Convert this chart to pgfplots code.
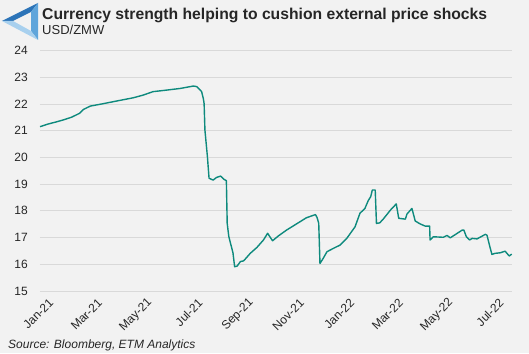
\documentclass[border=0pt]{standalone}
\usepackage{pgfplots}
\pgfplotsset{compat=1.18}
\usetikzlibrary{backgrounds,calc}
\usepackage{fontspec}
\setmainfont{Liberation Sans}
\definecolor{bg}{HTML}{F2F2F2}
\definecolor{gridc}{HTML}{D9D9D9}
\definecolor{linec}{HTML}{0E8A7D}
\definecolor{txt}{HTML}{262626}
\definecolor{logoA}{HTML}{2C74B8}
\definecolor{logoB}{HTML}{5FA5DB}
\definecolor{logoC}{HTML}{A8D0EE}
\begin{document}
\begin{tikzpicture}
\begin{axis}[
  name=ax,
  at={(0,0)}, anchor=south west,
  scale only axis, width=471.7pt, height=240.5pt,
  xmin=0, xmax=572, ymin=15, ymax=24,
  ytick={15,16,...,24},
  xtick={0,59,120,181,243,304,365,424,485,546},
  xticklabels={Jan-21,Mar-21,May-21,Jul-21,Sep-21,Nov-21,Jan-22,Mar-22,May-22,Jul-22},
  axis line style={draw=none},
  major tick length=0pt,
  ymajorgrids,
  grid style={gridc, line width=0.9pt},
  ticklabel style={text=txt, font=\fontsize{12}{14}\selectfont},
  xticklabel style={rotate=45, anchor=east, inner sep=0pt, xshift=1pt, yshift=-15pt},
  yticklabel style={anchor=east, inner sep=0pt, xshift=-12pt},
  /pgf/number format/assume math mode=true,
  clip=false,
]
\addplot[linec, line width=1.4pt, line join=round] coordinates {
(0,21.15) (10,21.25) (20,21.33) (28,21.40) (38,21.50) (48,21.65) (53,21.80) (61,21.92)
(75,22.00) (93,22.11) (113,22.23) (125,22.33) (137,22.46) (154,22.52) (170,22.58) (186,22.67)
(190,22.65) (193,22.56) (196,22.46) (198,22.21) (199,22.02) (200,21.02) (203,20.03) (205,19.22)
(210,19.15) (214,19.25) (219,19.30) (223,19.18) (226,19.13) (227,17.53) (229,17.03) (234,16.43)
(236,15.91) (239,15.93) (243,16.10) (247,16.13) (255,16.41) (263,16.63) (271,16.91) (276,17.16)
(282,16.88) (289,17.06) (299,17.28) (311,17.51) (323,17.74) (334,17.86) (336,17.75) (338,17.53)
(339.5,16.03) (343,16.20) (348,16.47) (356,16.60) (364,16.72) (372,16.97) (382,17.40) (388,17.91)
(394,18.09) (398,18.38) (401,18.53) (403,18.78) (406.5,18.78) (408,17.53) (412,17.55) (417,17.72)
(425,18.03) (432,18.26) (435,17.72) (443,17.69) (445,17.88) (451,18.09) (455,17.62) (461,17.51)
(467,17.43) (472.5,17.43) (473,16.91) (477,17.03) (489,17.01) (493.5,17.08) (497.5,16.99) (506,17.16)
(512,17.28) (514,17.28) (517,17.03) (521,16.91) (524,16.97) (530,16.95) (540,17.12) (542,17.09)
(545,16.72) (548,16.37) (552,16.41) (558,16.43) (564,16.49) (569,16.31) (572,16.38)
};
\end{axis}
\begin{scope}[shift={($(ax.south west)+(-40pt,-62pt)$)}, x=1pt, y=1pt]
\begin{pgfonlayer}{background}
\fill[bg] (0,0) rectangle (529,353);
\end{pgfonlayer}
\fill[logoA] (2,332) -- (38,350) -- (31,341) -- (13,332) -- cycle;
\fill[logoB] (38,350) -- (38,313) -- (31,322) -- (31,341) -- cycle;
\fill[logoC] (38,313) -- (2,332) -- (13,332) -- (31,322) -- cycle;
\node[anchor=base west, inner sep=0pt, text=txt, font=\bfseries\fontsize{15.7}{18}\selectfont] at (42,333) {Currency strength helping to cushion external price shocks};
\node[anchor=base west, inner sep=0pt, text=txt, font=\fontsize{13}{15}\selectfont] at (42,318) {USD/ZMW};
\node[anchor=base west, inner sep=0pt, text=txt, font=\itshape\fontsize{12}{14}\selectfont] at (8,5) {Source: Bloomberg, ETM Analytics};
\end{scope}
\pgfresetboundingbox
\path[use as bounding box] ($(ax.south west)+(-40pt,-62pt)$) rectangle ++(529pt,353pt);
\end{tikzpicture}
\end{document}
